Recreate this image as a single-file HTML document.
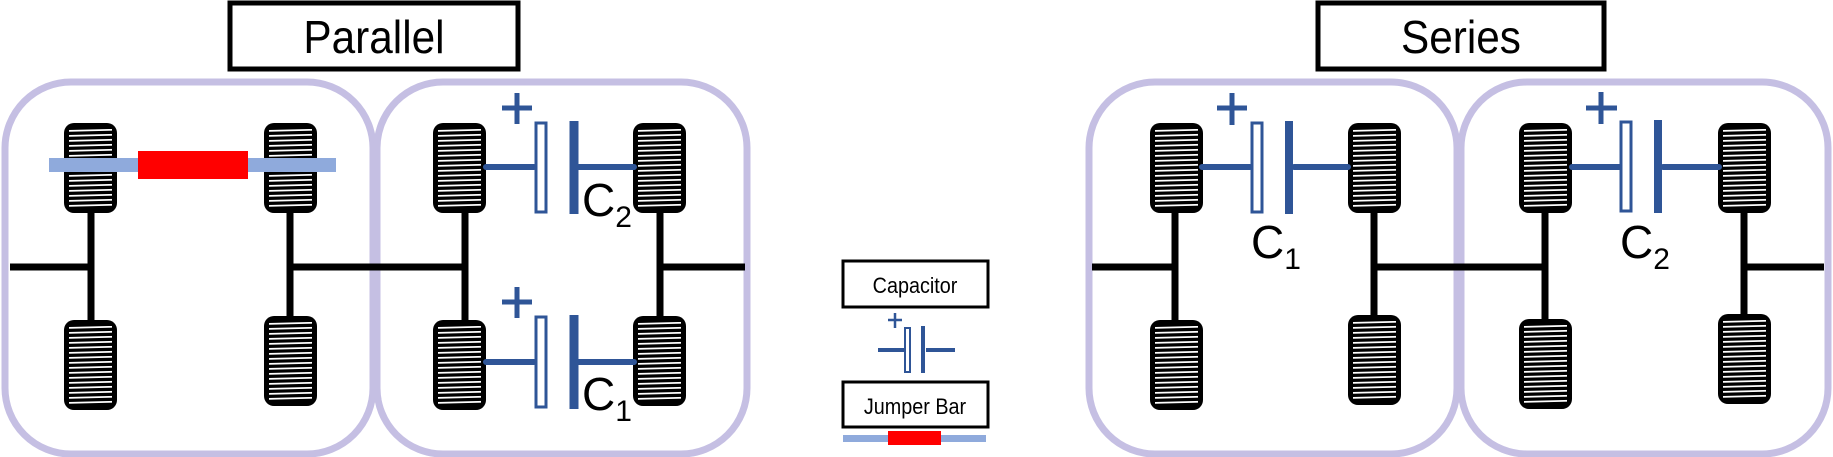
<!DOCTYPE html>
<html><head><meta charset="utf-8"><style>
html,body{margin:0;padding:0;background:#fff;width:1833px;height:457px;overflow:hidden}
svg{display:block}
text{font-family:"Liberation Sans",sans-serif}
</style></head><body>
<svg width="1833" height="457" viewBox="0 0 1833 457" xmlns="http://www.w3.org/2000/svg">
<defs>
<pattern id="h" width="60" height="5" patternUnits="userSpaceOnUse">
<rect width="60" height="5" fill="#000"/>
<path d="M0 3 L60 1.5" stroke="#fff" stroke-width="1.8"/>
</pattern>
<g id="w"><rect x="0" y="0" width="53" height="90" rx="10" fill="#000"/><rect x="5" y="6" width="43" height="78" fill="url(#h)"/></g>
</defs>
<!-- title boxes -->
<rect x="230" y="3" width="288" height="66" fill="#fff" stroke="#000" stroke-width="5"/>
<text x="374" y="53" font-size="46" text-anchor="middle" transform="translate(374 0) scale(0.92 1) translate(-374 0)">Parallel</text>
<rect x="1318" y="3" width="286" height="66" fill="#fff" stroke="#000" stroke-width="5"/>
<text x="1461" y="53" font-size="46" text-anchor="middle" transform="translate(1461 0) scale(0.92 1) translate(-1461 0)">Series</text>
<!-- panels -->
<g fill="none" stroke="#c5bfe3" stroke-width="7">
<rect x="5" y="82" width="368" height="372" rx="66"/>
<rect x="377" y="82" width="370" height="372" rx="66"/>
<rect x="1089" y="82" width="368" height="372" rx="66"/>
<rect x="1461" y="82" width="367" height="372" rx="66"/>
</g>
<!-- axles -->
<g stroke="#000" stroke-width="7" fill="none">
<path d="M10 267 H91 M91 213 V322 M290 213 V318 M290 267 H465 M465 213 V322 M660 213 V318 M660 267 H745"/>
<path d="M1092 267 H1175 M1175 213 V322 M1374 213 V318 M1374 267 H1545 M1545 213 V322 M1744 213 V318 M1744 267 H1824"/>
</g>
<!-- wheels -->
<use href="#w" x="64" y="123"/><use href="#w" x="64" y="320"/>
<use href="#w" x="264" y="123"/><use href="#w" x="264" y="316"/>
<use href="#w" x="433" y="123"/><use href="#w" x="433" y="320"/>
<use href="#w" x="633" y="123"/><use href="#w" x="633" y="316"/>
<use href="#w" x="1150" y="123"/><use href="#w" x="1150" y="320"/>
<use href="#w" x="1348" y="123"/><use href="#w" x="1348" y="315"/>
<use href="#w" x="1519" y="123"/><use href="#w" x="1519" y="319"/>
<use href="#w" x="1718" y="123"/><use href="#w" x="1718" y="314"/>
<!-- jumper bar -->
<rect x="49" y="158" width="287" height="14" fill="#8faadc"/>
<rect x="138" y="151" width="110" height="28" fill="#ff0000"/>
<!-- capacitors -->
<g stroke="#2f5597" fill="none">
<path d="M486 167 H534 M578 167 H634" stroke-width="6" stroke-linecap="round"/>
<rect x="536" y="123" width="10" height="89" stroke-width="3" fill="#fff"/>
<path d="M574 121 V214" stroke-width="9"/>
<path d="M502 108 H532 M517 93 V124" stroke-width="5"/>
<path d="M486 362 H534 M578 362 H634" stroke-width="6" stroke-linecap="round"/>
<rect x="536" y="317" width="10" height="90" stroke-width="3" fill="#fff"/>
<path d="M574 315 V409" stroke-width="9"/>
<path d="M502 302 H532 M517 287 V318" stroke-width="5"/>
<path d="M1202 167 H1250 M1294 167 H1348" stroke-width="6" stroke-linecap="round"/>
<rect x="1252" y="123" width="10" height="89" stroke-width="3" fill="#fff"/>
<path d="M1289 121 V214" stroke-width="8"/>
<path d="M1217 108 H1247 M1232 93 V125" stroke-width="5"/>
<path d="M1572 167 H1620 M1663 167 H1719" stroke-width="6" stroke-linecap="round"/>
<rect x="1621" y="122" width="10" height="89" stroke-width="3" fill="#fff"/>
<path d="M1658 120 V213" stroke-width="8"/>
<path d="M1586 108 H1617 M1601 92 V124" stroke-width="5"/>
</g>
<g fill="#000">
<text x="582" y="216" font-size="46">C<tspan font-size="30" dy="11">2</tspan></text>
<text x="582" y="410" font-size="46">C<tspan font-size="30" dy="11">1</tspan></text>
<text x="1251" y="258" font-size="46">C<tspan font-size="30" dy="11">1</tspan></text>
<text x="1620" y="258" font-size="46">C<tspan font-size="30" dy="11">2</tspan></text>
</g>
<!-- legend -->
<rect x="843" y="261" width="145" height="46" fill="#fff" stroke="#000" stroke-width="3"/>
<text x="915" y="293" font-size="22" text-anchor="middle" transform="translate(915 0) scale(0.9 1) translate(-915 0)">Capacitor</text>
<g stroke="#2f5597" fill="none">
<path d="M878 350 H904 M926 350 H955" stroke-width="4"/>
<rect x="905" y="328" width="5" height="44" stroke-width="2" fill="#fff"/>
<path d="M923 326 V373" stroke-width="4"/>
<path d="M888 320 H902 M895 313 V328" stroke-width="2.5"/>
</g>
<rect x="843" y="382" width="145" height="45" fill="#fff" stroke="#000" stroke-width="3"/>
<text x="915" y="414" font-size="22" text-anchor="middle" transform="translate(915 0) scale(0.9 1) translate(-915 0)">Jumper Bar</text>
<rect x="843" y="435" width="143" height="7" fill="#8faadc"/>
<rect x="888" y="431" width="53" height="14" fill="#ff0000"/>
</svg>
</body></html>
